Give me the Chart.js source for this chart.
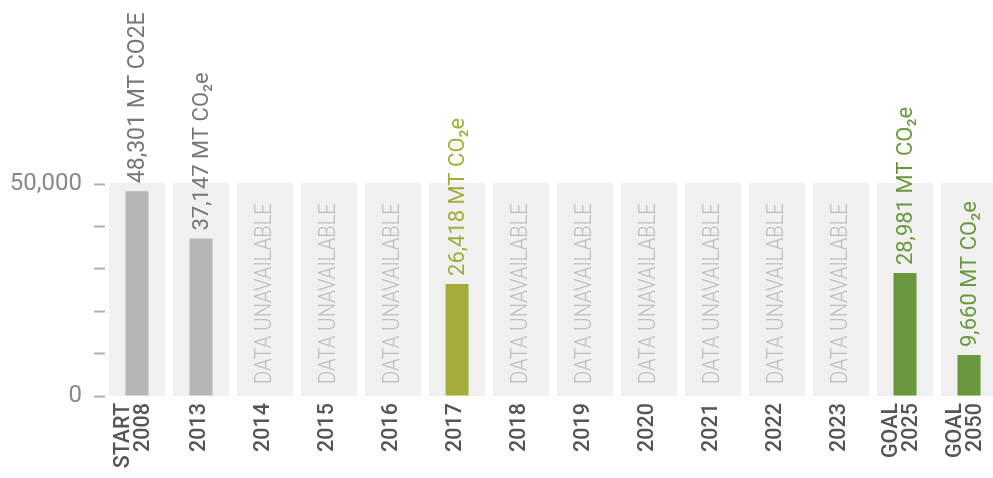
<!DOCTYPE html>
<html>
<head>
<meta charset="utf-8">
<script src="https://cdn.jsdelivr.net/npm/chart.js@4.4.1/dist/chart.umd.min.js"></script>
<style>
    html, body { margin: 0; padding: 0; background: #ffffff; overflow: hidden; }
    #wrap { width: 1001px; height: 478px; }
</style>
</head>
<body>
<div id="wrap"><canvas id="chartjs-0" width="1001" height="478"></canvas></div>
<script>
// chart data
var years = [["START", "2008"], "2013", "2014", "2015", "2016", "2017", "2018", "2019",
             "2020", "2021", "2022", "2023", ["GOAL", "2025"], ["GOAL", "2050"]];
var emissions = [48301, 37147, null, null, null, 26418, null, null, null, null, null, null, 28981, 9660];
var valueLabels = ["48,301 MT CO2E", "37,147 MT CO₂e", null, null, null, "26,418 MT CO₂e",
                   null, null, null, null, null, null, "28,981 MT CO₂e", "9,660 MT CO₂e"];
var barStatus = ["actual", "actual", "missing", "missing", "missing", "progress", "missing",
                 "missing", "missing", "missing", "missing", "missing", "goal", "goal"];
var missingText = "DATA UNAVAILABLE";
var yLabeled = [0, 50000];

var palette = { actual: "#b5b5b5", progress: "#a4ad3a", goal: "#6a983e", missing: "#bdbdbd" };
var labelColors = { actual: "#777777", progress: "#a4ad3a", goal: "#6a983e" };

/* grey panels behind each column, rotated value labels and year labels */
var panelPlugin = {
    id: "panels",
    beforeDatasetsDraw: function (chart) {
        var ctx = chart.ctx;
        var x = chart.scales.x;
        var area = chart.chartArea;
        var w = (x.getPixelForValue(1) - x.getPixelForValue(0)) * 0.875;
        ctx.save();
        ctx.fillStyle = "#f0f0f0";
        for (var i = 0; i < years.length; i++) {
            var cx = x.getPixelForValue(i);
            ctx.fillRect(cx - w / 2, area.top - 1, w, area.bottom - area.top + 1);
        }
        ctx.restore();
    },
    afterDatasetsDraw: function (chart) {
        var ctx = chart.ctx;
        var x = chart.scales.x;
        var y = chart.scales.y;
        var area = chart.chartArea;
        for (var i = 0; i < years.length; i++) {
            var cx = x.getPixelForValue(i);

            // value label or "data unavailable"
            ctx.save();
            ctx.textAlign = "left";
            ctx.textBaseline = "middle";
            if (emissions[i] === null) {
                ctx.translate(cx + 0.5, y.getPixelForValue(0) - 12);
                ctx.rotate(-Math.PI / 2);
                ctx.scale(0.88, 1);
                ctx.font = "300 23px Roboto";
                ctx.fillStyle = palette.missing;
                ctx.fillText(missingText, 0, 0);
            } else {
                ctx.translate(cx + 1, y.getPixelForValue(emissions[i]) - 8);
                ctx.rotate(-Math.PI / 2);
                ctx.font = (i === 0 ? "23px" : "22px") + " Roboto";
                ctx.fillStyle = labelColors[barStatus[i]];
                ctx.fillText(valueLabels[i], 0, 0);
            }
            ctx.restore();

            // category label under the column
            var lines = Array.isArray(years[i]) ? years[i] : [years[i]];
            var shift = lines.length > 1 ? -3.5 : -1;
            ctx.save();
            ctx.font = "500 21.5px Roboto";
            ctx.fillStyle = "#555555";
            ctx.textAlign = "right";
            ctx.textBaseline = "middle";
            for (var j = 0; j < lines.length; j++) {
                var lx = cx + shift + (j - (lines.length - 1) / 2) * 20;
                ctx.save();
                ctx.translate(lx, area.bottom + 7);
                ctx.rotate(-Math.PI / 2);
                ctx.fillText(lines[j], 0, 0);
                ctx.restore();
            }
            ctx.restore();
        }
    }
};

var ctx0 = document.getElementById("chartjs-0");
var myChart = new Chart(ctx0, {
    type: "bar",
    data: {
        labels: years,
        datasets: [{
            data: emissions,
            backgroundColor: barStatus.map(function (s) { return palette[s]; }),
            barPercentage: 0.36,
            categoryPercentage: 1
        }]
    },
    options: {
        responsive: false,
        devicePixelRatio: 1,
        animation: false,
        layout: { padding: { top: 184, left: 0, right: 0, bottom: 0 } },
        plugins: { legend: { display: false }, tooltip: { enabled: false } },
        scales: {
            x: {
                grid: { display: false },
                border: { display: false },
                ticks: { display: false },
                afterFit: function (scale) { scale.height = 82; }
            },
            y: {
                min: 0,
                max: 50000,
                border: { display: false },
                grid: {
                    drawOnChartArea: false,
                    tickLength: 19,
                    tickWidth: 2,
                    tickColor: "#b0b0b0",
                    tickBorderDash: [0, 8, 11, 100]
                },
                ticks: {
                    stepSize: 10000,
                    padding: 4,
                    color: "#888888",
                    font: { family: "Roboto", size: 24 },
                    callback: function (value) {
                        return yLabeled.indexOf(value) >= 0 ? value.toLocaleString("en-US") : "";
                    }
                },
                afterFit: function (scale) { scale.width = 105; }
            }
        }
    },
    plugins: [panelPlugin]
});
</script>
</body>
</html>
